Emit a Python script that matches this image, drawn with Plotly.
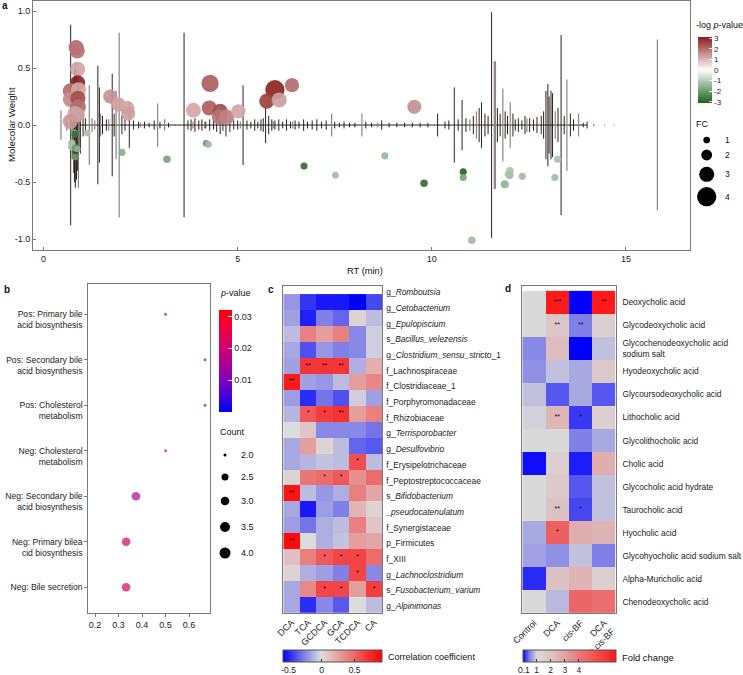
import plotly.graph_objects as go

W, H = 743, 675
FONT = "Liberation Sans, Arial, Helvetica, sans-serif"
INK = "#222222"
FRAME = "#7a7a7a"


def px(x):
    return x / W


def py(y):
    return 1 - y / H


# ------------------------------------------------------------------ panel a data
rt_dark = [0.70, 0.74, 0.78, 0.80, 0.82, 0.85, 0.88, 0.95, 1.02, 1.08, 1.40, 1.44, 1.52, 1.62,
           1.77, 1.82, 2.02, 2.10, 2.21, 2.32, 2.45, 2.60, 2.72, 2.85, 3.00, 3.22, 3.62, 3.72,
           3.80, 3.90, 4.00, 4.08, 4.18, 4.28, 4.38, 4.46, 4.55, 4.62, 4.70, 4.80, 4.90, 5.00,
           5.14, 5.24, 5.34, 5.44, 5.52, 5.60, 5.66, 5.72, 5.80, 5.88, 5.96, 6.06, 6.16, 6.26,
           6.36, 6.48, 6.58, 6.70, 6.80, 6.92, 7.04, 7.16, 7.28, 7.50, 7.62, 7.74, 7.88, 8.02,
           8.30, 8.45, 8.71, 8.90, 9.10, 9.30, 9.50, 9.70, 9.90, 10.15, 10.34, 10.44, 10.58,
           10.68, 10.78, 10.88, 11.07, 11.22, 11.28, 11.37, 11.45, 11.54, 11.69, 11.76, 11.89,
           11.95, 12.09, 12.15, 12.23, 12.32, 12.40, 12.52, 12.62, 12.71, 12.82, 12.88, 12.94,
           12.99, 13.02, 13.07, 13.11, 13.25, 13.33, 13.41, 13.57, 13.65, 13.90, 14.00]
h_dark = [0.88, 0.30, 0.42, 0.50, 0.55, 0.48, 0.40, 0.25, 0.10, 0.06, 0.52, 0.33, 0.08, 0.05,
          0.45, 0.10, 0.08, 0.05, 0.20, 0.04, 0.03, 0.03, 0.02, 0.04, 0.03, 0.02, 0.81, 0.04,
          0.05, 0.06, 0.04, 0.05, 0.03, 0.05, 0.04, 0.06, 0.08, 0.05, 0.10, 0.06, 0.04, 0.04,
          0.35, 0.04, 0.03, 0.05, 0.03, 0.05, 0.06, 0.16, 0.08, 0.05, 0.04, 0.05, 0.03, 0.05,
          0.03, 0.04, 0.03, 0.05, 0.03, 0.04, 0.05, 0.03, 0.04, 0.03, 0.02, 0.03, 0.02, 0.02,
          0.03, 0.02, 0.04, 0.02, 0.02, 0.02, 0.02, 0.02, 0.02, 0.10, 0.03, 0.04, 0.33,
          0.05, 0.22, 0.06, 0.08, 0.15, 0.20, 0.10, 0.08, 0.99, 0.15, 0.10, 0.12,
          0.08, 0.10, 0.05, 0.06, 0.04, 0.08, 0.06, 0.05, 0.07, 0.08, 0.12, 0.30,
          0.36, 0.25, 0.30, 0.28, 0.15, 0.79, 0.08, 0.10, 0.05, 0.02, 0.03]
rt_grey = [0.45, 0.60, 0.90, 0.93, 1.18, 1.25, 1.32, 1.47, 1.68, 1.87, 1.95, 2.50, 2.94, 3.12,
           3.40, 3.85, 4.15, 5.07, 5.92, 6.42, 7.42, 8.20, 8.60, 9.20, 9.80, 10.98, 11.15,
           11.61, 11.64, 11.83, 12.02, 12.45, 13.18, 13.48, 13.78, 14.17, 14.45, 14.70, 15.81]
h_grey = [0.13, 0.05, 0.55, 0.20, 0.35, 0.06, 0.04, 0.10, 0.05, 0.30, 0.81, 0.02, 0.19, 0.05,
          0.01, 0.03, 0.03, 0.03, 0.03, 0.03, 0.10, 0.10, 0.02, 0.01, 0.01, 0.05, 0.12,
          0.56, 0.56, 0.32, 0.20, 0.06, 0.12, 0.40, 0.10, 0.01, 0.005, 0.005, 0.75]

rt_up = [0.84, 0.87, 0.88, 0.88, 0.69, 0.90, 0.69, 0.89, 0.90, 0.81, 0.87, 0.69, 1.72, 1.93,
         2.16, 2.18, 3.86, 4.29, 4.27, 4.55, 4.53, 4.72, 5.02, 5.96, 5.75, 6.07, 6.40, 9.55]
mw_up = [0.68, 0.65, 0.49, 0.37, 0.30, 0.31, 0.225, 0.235, 0.16, 0.10, 0.09, 0.03, 0.25, 0.18,
         0.15, 0.10, 0.13, 0.365, 0.15, 0.12, 0.07, 0.07, 0.12, 0.31, 0.21, 0.22, 0.35, 0.16]
logp_up = [2.0, 1.9, 1.2, 3.0, 2.0, 1.2, 1.6, 2.4, 2.0, 1.2, 1.3, 1.4, 1.5, 1.3,
           1.2, 1.3, 1.2, 2.2, 2.2, 2.4, 1.9, 1.7, 1.2, 3.0, 2.6, 1.3, 2.0, 1.5]
fc_up = [3.0, 3.0, 3.0, 3.0, 3.0, 3.0, 3.0, 3.0, 3.0, 3.0, 3.0, 3.0, 2.8, 2.8,
         2.8, 2.8, 3.0, 3.5, 3.0, 3.0, 3.0, 3.0, 2.8, 4.0, 3.0, 3.0, 2.8, 2.8]

rt_dn = [0.79, 0.81, 0.73, 0.73, 0.82, 0.87, 0.82, 1.13, 2.02, 3.18, 4.19, 4.25, 6.71, 7.52,
         8.79, 9.80, 10.81, 10.81, 11.03, 11.88, 12.01, 12.01, 11.95, 12.33, 13.17, 13.24]
mw_dn = [-0.07, -0.08, -0.16, -0.19, -0.20, -0.21, -0.28, -0.07, -0.24, -0.30, -0.16, -0.17,
         -0.36, -0.44, -0.27, -0.51, -0.41, -0.46, -1.01, -0.52, -0.40, -0.44, -0.43, -0.45,
         -0.46, -0.30]
logp_dn = [-1.8, -2.8, -1.2, -1.2, -2.0, -1.6, -2.0, -1.2, -1.6, -1.8, -2.0, -1.3, -2.8, -1.3,
           -1.4, -2.8, -3.0, -1.8, -1.3, -1.5, -1.2, -1.3, -1.2, -1.3, -1.3, -1.2]
fc_dn = [1.2, 1.0, 1.2, 1.2, 1.1, 1.0, 1.0, 1.0, 1.1, 1.2, 1.0, 1.0, 1.1, 1.0,
         1.1, 1.2, 1.1, 1.1, 1.2, 1.3, 1.2, 1.2, 0.8, 1.1, 1.1, 1.1]

a_yticks = [-1.0, -0.5, 0.0, 0.5, 1.0]
a_yticktext = ["-1.0", "-0.5", "0.0", "0.5", "1.0"]
a_xticks = [0, 5, 10, 15]
logp_ticks = [-3, -2, -1, 0, 1, 2, 3]
logp_ticktext = ["-3", "-2", "-1", "0", "1", "2", "3"]
fc_legend = [1, 2, 3, 4]

# ------------------------------------------------------------------ panel b data
pathways = ["Pos: Primary bile<br>acid biosynthesis",
            "Pos: Secondary bile<br>acid biosynthesis",
            "Pos: Cholesterol<br>metabolism",
            "Neg: Cholesterol<br>metabolism",
            "Neg: Secondary bile<br>acid biosynthesis",
            "Neg: Primary bilea<br>cid biosynthesis",
            "Neg: Bile secretion"]
rich_factor = [0.50, 0.668, 0.668, 0.50, 0.374, 0.332, 0.332]
pvals = [0.020, 0.013, 0.013, 0.031, 0.015, 0.021, 0.022]
counts = [2, 2, 2, 2, 3, 3, 3]
b_xticks = [0.2, 0.3, 0.4, 0.5, 0.6]
b_xticktext = ["0.2", "0.3", "0.4", "0.5", "0.6"]
p_ticks = [0.01, 0.02, 0.03]
p_ticktext = ["0.01", "0.02", "0.03"]
count_legend = [2.0, 2.5, 3.0, 3.5, 4.0]

# ------------------------------------------------------------------ panel c data
acids_c = ["DCA", "TCA", "GCDCA", "GCA", "TCDCA", "CA"]
taxa = ["g_<i>Romboutsia</i>", "g_<i>Cetobacterium</i>", "g_<i>Epulopiscium</i>",
        "s_<i>Bacillus_velezensis</i>", "g_<i>Clostridium_sensu_stricto</i>_1",
        "f_Lachnospiraceae", "f_Clostridiaceae_1", "f_Porphyromonadaceae", "f_Rhizobiaceae",
        "g_<i>Terrisporobacter</i>", "g_<i>Desulfovibrio</i>", "f_Erysipelotrichaceae",
        "f_Peptostreptococcaceae", "s_<i>Bifidobacterium</i>|<i>_pseudocatenulatum</i>",
        "f_Synergistaceae", "p_Firmicutes", "f_XIII", "g_<i>Lachnoclostridium</i>",
        "s_<i>Fusobacterium_varium</i>", "g_<i>Alpinimonas</i>"]
corr = [
    [-0.20, -0.45, -0.52, -0.52, -0.58, -0.40],
    [-0.17, -0.50, -0.26, -0.33, 0.04, -0.09],
    [-0.09, 0.40, 0.27, 0.40, -0.24, -0.04],
    [-0.15, -0.38, -0.20, -0.26, -0.24, -0.04],
    [-0.17, 0.70, 0.70, 0.70, -0.13, 0.20],
    [0.82, -0.17, -0.20, -0.09, 0.27, 0.37],
    [-0.18, -0.47, -0.29, -0.38, -0.04, -0.17],
    [-0.11, 0.56, 0.67, 0.72, 0.27, 0.40],
    [0.00, 0.10, -0.24, -0.24, -0.24, -0.29],
    [-0.15, 0.27, 0.04, -0.09, -0.33, -0.36],
    [-0.15, -0.11, -0.07, -0.09, 0.60, -0.09],
    [0.04, 0.44, 0.48, 0.56, 0.33, 0.48],
    [0.84, -0.09, -0.20, -0.13, 0.40, 0.24],
    [-0.15, -0.52, -0.18, -0.26, 0.17, 0.04],
    [-0.18, -0.29, -0.13, -0.09, 0.40, 0.10],
    [0.88, 0.00, -0.13, -0.07, 0.27, 0.24],
    [0.12, 0.40, 0.56, 0.64, 0.64, 0.48],
    [0.04, -0.13, -0.18, -0.26, 0.64, -0.24],
    [-0.15, 0.36, 0.64, 0.64, 0.27, 0.67],
    [-0.15, -0.47, -0.24, -0.36, 0.00, -0.09],
]
sig_c_row = [0, 4, 4, 4, 5, 7, 7, 7, 10, 11, 11, 12, 15, 16, 16, 16, 17, 18, 18, 18]
sig_c_col = [4, 1, 2, 3, 0, 1, 2, 3, 4, 2, 3, 0, 0, 2, 3, 4, 4, 2, 3, 5]
sig_c_txt = ["*", "**", "**", "**", "**", "*", "*", "**", "*", "*", "*", "**", "**",
             "*", "*", "*", "*", "*", "*", "*"]
corr_ticks = [-0.5, 0, 0.5]
corr_ticktext = ["-0.5", "0", "0.5"]

# ------------------------------------------------------------------ panel d data
groups_d = ["Control", "DCA", "<i>cis</i>-BF", "DCA<br>× <i>cis</i>-BF"]
bile_acids = ["Deoxycholic acid", "Glycodeoxycholic acid",
              "Glycochenodeoxycholic acid<br>sodium salt", "Hyodeoxycholic acid",
              "Glycoursodeoxycholic acid", "Lithocholic acid", "Glycolithocholic acid",
              "Cholic acid", "Glycocholic acid hydrate", "Taurocholic acid", "Hyocholic acid",
              "Glycohyocholic acid sodium salt", "Alpha-Muricholic acid",
              "Chenodeoxycholic acid"]
fold = [
    [1.00, 6.60, 0.00, 6.60],
    [1.00, 1.90, 0.45, 1.50],
    [0.50, 2.20, 0.00, 0.85],
    [0.55, 0.85, 0.70, 1.80],
    [0.85, 0.30, 0.70, 0.30],
    [0.95, 2.40, 0.20, 1.50],
    [1.00, 1.05, 0.45, 0.70],
    [0.05, 1.50, 0.10, 2.70],
    [1.00, 1.70, 0.30, 0.85],
    [1.00, 2.00, 0.25, 0.85],
    [0.70, 4.70, 2.70, 2.50],
    [0.65, 0.55, 0.85, 0.45],
    [0.15, 2.00, 2.50, 1.50],
    [1.00, 0.80, 4.50, 4.30],
]
sig_d_row = [0, 0, 1, 1, 5, 5, 9, 9, 10]
sig_d_col = [1, 3, 1, 2, 1, 2, 1, 2, 1]
sig_d_txt = ["***", "**", "**", "**", "**", "*", "**", "*", "*"]
fold_ticks = [0.1, 1, 2, 3, 4]
fold_ticktext = ["0.1", "1", "2", "3", "4"]


# ------------------------------------------------------------------ helpers
def fc_size(v):
    return 4.2 * v + 2.5


def count_size(c):
    return 3.0 + 8.0 * ((c - 2.0) / 2.0) ** 0.5


def stems(xs, hs):
    X, Y = [], []
    for x, h in zip(xs, hs):
        X += [x, x, None]
        Y += [h, -h, None]
    return X, Y


fig = go.Figure()

# ---- panel a
fig.add_trace(go.Scatter(x=[min(rt_dark), max(rt_dark)], y=[0, 0], mode="lines",
                         line=dict(color="#2b2222", width=1), hoverinfo="skip"))
gx, gy = stems(rt_grey, h_grey)
fig.add_trace(go.Scatter(x=gx, y=gy, mode="lines", line=dict(color="#8c8484", width=1.2),
                         hoverinfo="skip"))
dx, dy = stems(rt_dark, h_dark)
fig.add_trace(go.Scatter(x=dx, y=dy, mode="lines", line=dict(color="#2b2020", width=1.0),
                         hoverinfo="skip"))
cs_a = [[0.0, "#1a641a"], [0.5, "#ffffff"], [1.0, "#8a1c1c"]]
fig.add_trace(go.Scatter(
    x=rt_up + rt_dn, y=mw_up + mw_dn, mode="markers",
    marker=dict(size=[fc_size(v) for v in fc_up + fc_dn], color=logp_up + logp_dn,
                colorscale=cs_a, cmin=-3.1, cmax=3.1, opacity=0.92, line=dict(width=0),
                colorbar=dict(x=px(698), xanchor="left", y=py(70), yanchor="middle",
                              len=66, lenmode="pixels", thickness=14, thicknessmode="pixels",
                              xpad=0, ypad=0, outlinewidth=0, tickvals=logp_ticks,
                              ticktext=logp_ticktext, ticks="inside", ticklen=3,
                              tickcolor="rgba(255,255,255,0.8)",
                              tickfont=dict(size=8, color=INK))),
    xaxis="x", yaxis="y"))

# ---- panel b
cs_b = [[0.0, "#0000ff"], [0.3, "#8000c0"], [0.62, "#d00070"], [0.94, "#ff0020"],
        [1.0, "#ff0000"]]
fig.add_trace(go.Scatter(
    x=rich_factor, y=list(range(len(pathways))), mode="markers",
    marker=dict(size=[count_size(c) for c in counts], color=pvals, colorscale=cs_b,
                cmin=0.0, cmax=0.032, line=dict(width=0),
                colorbar=dict(x=px(219.3), xanchor="left", y=py(361), yanchor="middle",
                              len=102, lenmode="pixels", thickness=13, thicknessmode="pixels",
                              xpad=0, ypad=0, outlinewidth=0, tickvals=p_ticks,
                              ticktext=p_ticktext, ticks="inside", ticklen=4,
                              tickcolor="rgba(255,255,255,0.8)",
                              tickfont=dict(size=9, color=INK))),
    xaxis="x2", yaxis="y2"))

# ---- panel c
taxa_keys = [t.replace("|", "") for t in taxa]
cs_c = [[0.0, "#0000ff"], [0.22, "#8484e6"], [0.3867, "#dcdcdc"], [0.6533, "#e88080"],
        [1.0, "#ff0000"]]
fig.add_trace(go.Heatmap(
    z=corr, x=acids_c, y=taxa_keys, colorscale=cs_c, zmin=-0.58, zmax=0.92,
    colorbar=dict(orientation="h", x=px(332.8), xanchor="center", y=py(650),
                  yanchor="top", len=99, lenmode="pixels", thickness=12,
                  thicknessmode="pixels", xpad=0, ypad=0, outlinewidth=1, outlinecolor="#555",
                  tickvals=corr_ticks, ticktext=corr_ticktext, ticks="inside", ticklen=3,
                  tickangle=0, tickcolor="#333", tickfont=dict(size=8.5, color=INK)),
    xaxis="x3", yaxis="y3", hoverinfo="skip"))
fig.add_trace(go.Scatter(
    x=[acids_c[c] for c in sig_c_col], y=[taxa_keys[r] for r in sig_c_row],
    text=sig_c_txt, mode="text", textfont=dict(size=7, color="#111"),
    textposition="middle center", xaxis="x3", yaxis="y3", hoverinfo="skip"))
label_lines = []
for t in taxa:
    label_lines += t.split("|")
fig.add_trace(go.Scatter(x=[acids_c[0]], y=[0], mode="markers",
                         marker=dict(opacity=0, size=1), xaxis="x3", yaxis="y4",
                         hoverinfo="skip"))

# ---- panel d
cs_d = [[0.0, "#0000ff"], [0.068, "#8080e8"], [0.152, "#dadada"], [0.30, "#dcc4c4"],
        [0.45, "#e0a4a4"], [0.60, "#e87a7a"], [1.0, "#ff1a1a"]]
fig.add_trace(go.Heatmap(
    z=fold, x=groups_d, y=bile_acids, colorscale=cs_d, zmin=0.0, zmax=6.6,
    colorbar=dict(orientation="h", x=px(569), xanchor="center", y=py(650),
                  yanchor="top", len=93.4, lenmode="pixels", thickness=12,
                  thicknessmode="pixels", xpad=0, ypad=0, outlinewidth=1, outlinecolor="#555",
                  tickvals=fold_ticks, ticktext=fold_ticktext, ticks="inside", ticklen=3,
                  tickangle=0, tickcolor="#333", tickfont=dict(size=8.5, color=INK)),
    xaxis="x5", yaxis="y5", hoverinfo="skip"))
fig.add_trace(go.Scatter(
    x=[groups_d[c] for c in sig_d_col], y=[bile_acids[r] for r in sig_d_row],
    text=sig_d_txt, mode="text", textfont=dict(size=7, color="#111"),
    textposition="middle center", xaxis="x5", yaxis="y5", hoverinfo="skip"))

# ------------------------------------------------------------------ layout
frame = dict(showline=True, linecolor=FRAME, linewidth=1, mirror=True, showgrid=False,
             zeroline=False, automargin=False)
tickf = dict(size=9, color=INK)

fig.update_layout(
    width=W, height=H, margin=dict(l=0, r=0, t=0, b=0, autoexpand=False),
    paper_bgcolor="white", plot_bgcolor="rgba(0,0,0,0)",
    font=dict(family=FONT, size=9, color=INK), showlegend=False,
    xaxis=dict(domain=[px(33), px(690)], range=[-0.27, 16.65], tickvals=a_xticks,
               ticks="inside", ticklen=3, tickcolor=FRAME, tickfont=tickf, anchor="y", **frame),
    yaxis=dict(domain=[py(250), py(1)], range=[-1.096, 1.088], tickvals=a_yticks,
               ticktext=a_yticktext, ticks="inside", ticklen=3, tickcolor=FRAME,
               tickfont=tickf, anchor="x", **frame),
    xaxis2=dict(domain=[px(88.3), px(210)], range=[0.171, 0.689], tickvals=b_xticks,
                ticktext=b_xticktext, ticks="outside", ticklen=3, tickcolor=FRAME,
                tickfont=tickf, anchor="y2", **frame),
    yaxis2=dict(domain=[py(612.7), py(284.3)], range=[6.56, -0.66],
                tickvals=list(range(len(pathways))),
                ticktext=[" <br>" + p if "<br>" in p else p for p in pathways],
                ticks="outside", ticklen=3, tickcolor=FRAME, tickfont=dict(size=8.6, color=INK),
                anchor="x2", **frame),
    xaxis3=dict(domain=[px(283.3), px(382.3)], tickangle=-45, ticks="", tickfont=tickf,
                anchor="y3", **frame),
    yaxis3=dict(domain=[py(612.7), py(285.7)], autorange="reversed", showticklabels=False,
                ticks="", anchor="x3", **frame),
    yaxis4=dict(overlaying="y3", anchor="x3", side="right", range=[20.42, -0.42],
                tickvals=list(range(len(label_lines))), ticktext=label_lines, ticks="",
                showgrid=False, zeroline=False, showline=False, ticklabelstandoff=3,
                automargin=False, tickfont=dict(size=8.4, color=INK)),
    xaxis5=dict(domain=[px(522.3), px(615.7)], tickangle=-45, ticks="", tickfont=tickf,
                anchor="y5", **frame),
    yaxis5=dict(domain=[py(613.3), py(286)], autorange="reversed", side="right", ticks="",
                ticklabelstandoff=4, tickfont=dict(size=8.4, color=INK), anchor="x5",
                **frame),
)

ann = []


def text(x, y, s, size=9, bold=False, xanchor="left", angle=0):
    ann.append(dict(x=px(x), y=py(y), xref="paper", yref="paper",
                    text=f"<b>{s}</b>" if bold else s,
                    showarrow=False, xanchor=xanchor, yanchor="middle", textangle=angle,
                    font=dict(size=size, color="#111")))


text(0, 6, "a", 10, True)
text(2, 289, "b", 10, True)
text(266, 289, "c", 10, True)
text(503, 288, "d", 10, True)
text(12, 125, "Molecolar Weight", 9.7, angle=-90, xanchor="center")
text(365, 271, "RT (min)", 9.3, xanchor="center")
text(694, 25, "-log <i>p</i>-value", 9)
text(694, 124, "FC", 9)
text(218, 293, "<i>p</i>-value", 9)
text(218, 432, "Count", 9)
text(386, 657, "Correlation coefficient", 9)
text(620, 657, "Fold change", 9.4)

shapes = []
fc_leg_y = [140, 155, 174.3, 196.7]
for v, yc in zip(fc_legend, fc_leg_y):
    d = fc_size(v)
    shapes.append(dict(type="circle", xref="paper", yref="paper", fillcolor="black",
                       line=dict(width=0), x0=px(706.7 - d / 2), x1=px(706.7 + d / 2),
                       y0=py(yc + d / 2), y1=py(yc - d / 2)))
    text(723, yc, str(v), 8.5)
cnt_leg_y = [455, 477, 501, 527, 553]
for v, yc in zip(count_legend, cnt_leg_y):
    d = count_size(v)
    shapes.append(dict(type="circle", xref="paper", yref="paper", fillcolor="black",
                       line=dict(width=0), x0=px(225 - d / 2), x1=px(225 + d / 2),
                       y0=py(yc + d / 2), y1=py(yc - d / 2)))
    text(239, yc, f"{v:.1f}", 9)

fig.update_layout(annotations=ann, shapes=shapes)
fig.write_html("out.html", config={"displayModeBar": False},
               post_script="document.body.style.margin='0';document.body.style.padding='0';")
